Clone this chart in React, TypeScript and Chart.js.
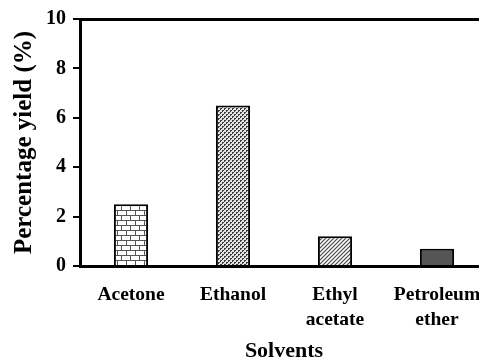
import React, { useEffect, useRef } from "react";
import { Chart, registerables } from "chart.js";

Chart.register(...registerables);

const categories: (string | string[])[] = ["Acetone", "Ethanol", ["Ethyl", "acetate"], ["Petroleum", "ether"]];
const yields: number[] = [2.5, 6.5, 1.2, 0.7];
const yTicks: number[] = [0, 2, 4, 6, 8, 10];

function makeTile(w: number, h: number, draw: (c: CanvasRenderingContext2D) => void): CanvasPattern | string {
  const cv = document.createElement("canvas");
  cv.width = w;
  cv.height = h;
  const c = cv.getContext("2d");
  if (!c) return "#888";
  draw(c);
  const p = c.createPattern(cv, "repeat");
  return p || "#888";
}

function brick() {
  return makeTile(9, 10, (c) => {
    c.fillStyle = "#ffffff";
    c.fillRect(0, 0, 9, 10);
    c.fillStyle = "#555555";
    c.fillRect(0, 0, 9, 1);
    c.fillRect(0, 5, 9, 1);
    c.fillRect(0, 0, 1, 5);
    c.fillRect(4, 5, 1, 5);
  });
}

function dots() {
  return makeTile(4, 4, (c) => {
    c.fillStyle = "#e4e4e4";
    c.fillRect(0, 0, 4, 4);
    c.fillStyle = "#3a3a3a";
    c.fillRect(0, 0, 2, 2);
    c.fillRect(2, 2, 2, 2);
    c.fillStyle = "#e4e4e4";
    c.fillRect(1, 1, 1, 1);
    c.fillRect(3, 3, 1, 1);
  });
}

function hatch() {
  return makeTile(4, 4, (c) => {
    c.fillStyle = "#ffffff";
    c.fillRect(0, 0, 4, 4);
    c.strokeStyle = "#444444";
    c.lineWidth = 1.2;
    c.beginPath();
    c.moveTo(-1, 5);
    c.lineTo(5, -1);
    c.moveTo(-1, 1);
    c.lineTo(1, -1);
    c.moveTo(3, 5);
    c.lineTo(5, 3);
    c.stroke();
  });
}

const FONT = "'Liberation Serif', 'Times New Roman', serif";

export default function App() {
  const ref = useRef<HTMLCanvasElement | null>(null);
  useEffect(() => {
    if (!ref.current) return;
    const chart = new Chart(ref.current, {
      type: "bar",
      data: {
        labels: categories,
        datasets: [
          {
            data: yields,
            backgroundColor: [brick(), dots(), hatch(), "#555555"],
            borderColor: "#000000",
            borderWidth: 2,
            categoryPercentage: 1,
            barPercentage: 0.335,
            xAxisID: "x",
          },
        ],
      },
      options: {
        responsive: false,
        animation: false,
        devicePixelRatio: 1,
        layout: { padding: { top: 19, left: 0, right: 12, bottom: 0 } },
        plugins: { legend: { display: false }, tooltip: { enabled: false } },
        scales: {
          x: {
            type: "category",
            position: "bottom",
            grid: { display: false, drawTicks: false },
            border: { display: true, color: "#000", width: 3 },
            ticks: {
              color: "#000",
              padding: 16,
              maxRotation: 0,
              autoSkip: false,
              font: { family: FONT, size: 19.5, weight: "bold", lineHeight: 1.3 },
            },
            title: {
              display: true,
              text: "Solvents",
              color: "#000",
              padding: { top: 0, bottom: 0 },
              font: { family: FONT, size: 22, weight: "bold", lineHeight: 1.0 },
            },
            afterFit: (axis: any) => {
              axis.height = 96;
            },
          },
          x2: {
            type: "category",
            position: "top",
            labels: categories,
            grid: { display: false, drawTicks: false },
            border: { display: true, color: "#000", width: 3 },
            ticks: { display: false },
          },
          y: {
            min: 0,
            max: 10,
            afterBuildTicks: (axis: any) => {
              axis.ticks = yTicks.map((v) => ({ value: v }));
            },
            grid: {
              display: true,
              drawOnChartArea: false,
              drawTicks: true,
              tickLength: 7,
              color: "#000",
              lineWidth: 2,
            },
            border: { display: true, color: "#000", width: 3 },
            ticks: {
              color: "#000",
              padding: 7,
              font: { family: FONT, size: 20, weight: "bold" },
            },
            title: {
              display: true,
              text: "Percentage yield (%)",
              color: "#000",
              padding: { top: 10, bottom: 0 },
              font: { family: FONT, size: 25, weight: "bold" },
            },
            afterFit: (axis: any) => {
              axis.width = 80;
            },
          },
        },
      },
    });
    return () => chart.destroy();
  }, []);
  return (
    <div style={{ position: "fixed", left: 0, top: 0, width: 479, height: 362, overflow: "hidden", background: "#fff" }}>
      <canvas ref={ref} width={500} height={362} style={{ display: "block" }} />
    </div>
  );
}
